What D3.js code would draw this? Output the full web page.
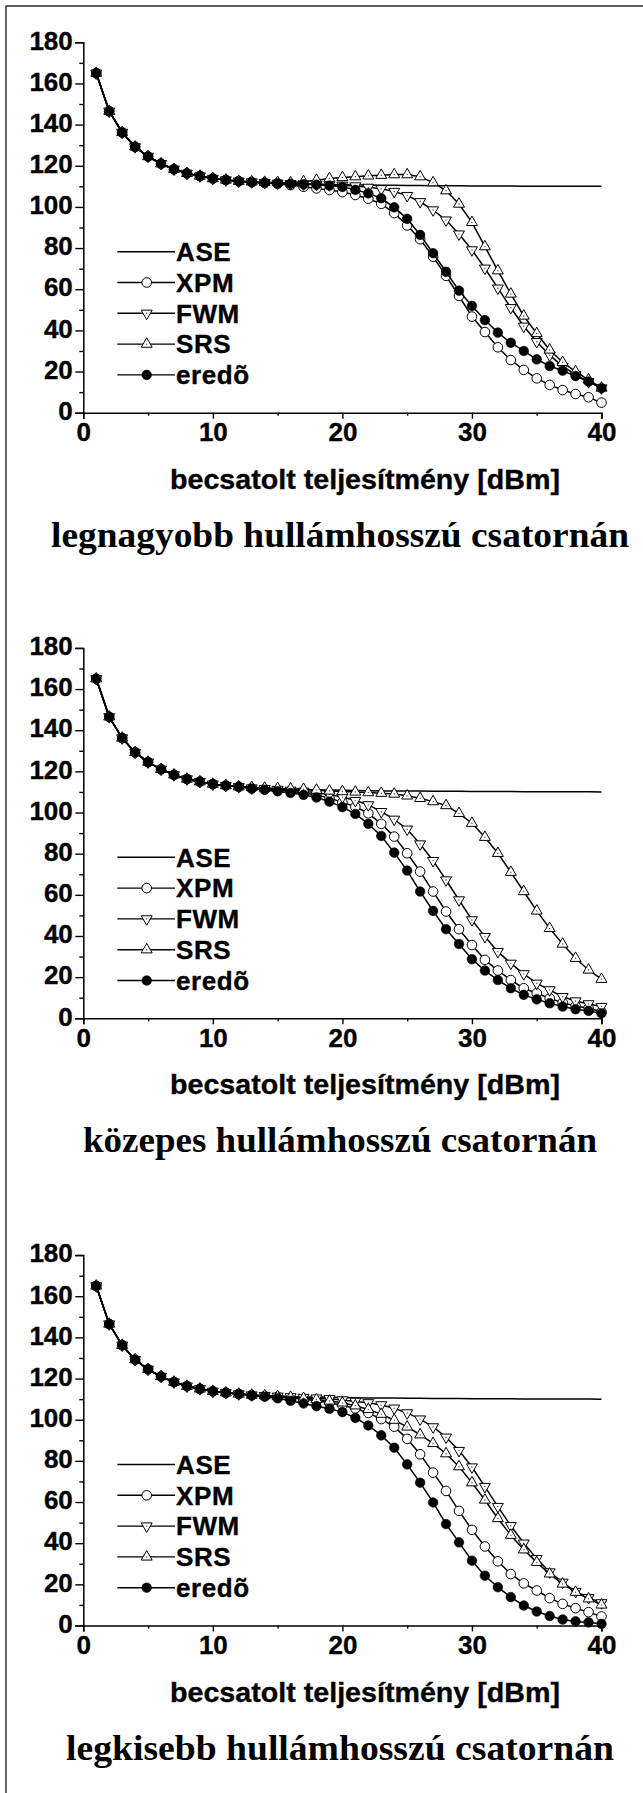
<!DOCTYPE html>
<html>
<head>
<meta charset="utf-8">
<script src="https://cdn.jsdelivr.net/npm/d3@7"></script>
<style>
  html, body { margin: 0; padding: 0; background: #fff; }
  svg { display: block; }
</style>
</head>
<body>
<script>
// launched power, dBm
const power = [1,2,3,4,5,6,7,8,9,10,11,12,13,14,15,16,17,18,19,20,
               21,22,23,24,25,26,27,28,29,30,31,32,33,34,35,36,37,38,39,40];

// values shared by every curve at low power (1..12 dBm)
const head = [165,146.5,136.2,129.2,124.5,121.0,118.3,116.3,115.0,113.8,113.1,112.5];

// 13..40 dBm
const aseTail = [112.0,111.7,111.5,111.3,111.1,111.0,110.9,110.8,110.7,110.6,110.5,110.5,110.4,110.4,
                 110.3,110.3,110.3,110.2,110.2,110.2,110.2,110.1,110.1,110.1,110.1,110.1,110.1,110.0];

// longest wavelength channel
const xpm1 = [112.0,111.6,111.2,110.6,109.8,109.0,108.2,107.2,105.8,104.0,101.5,97.0,91.0,84.3,
              75.8,66.5,56.7,46.7,39.2,31.8,25.6,20.8,16.7,13.5,11.0,9.1,7.5,4.9];
const fwm1 = [112.1,111.8,111.5,111.3,111.1,110.9,110.7,110.5,110.2,109.5,108.8,107.5,105.5,102.5,
              98.5,93.6,86.8,79.1,70.2,60.5,51.0,42.0,34.5,28.0,22.5,18.5,15.0,12.0];
const srs1 = [112.2,112.0,111.9,111.8,112.3,113.0,113.8,114.3,114.7,115.1,115.4,115.7,115.7,114.7,
              111.8,107.9,101.4,92.5,80.7,69.0,57.7,47.0,38.5,30.5,24.5,20.0,16.0,12.0];
const ered1 = [112.1,111.8,111.5,111.2,111.0,110.8,110.4,109.7,108.3,106.6,104.2,99.8,94.2,86.4,
               77.5,68.5,59.3,51.9,45.0,38.9,34.0,30.0,25.9,22.7,20.4,17.8,15.1,11.9];

// middle wavelength channel
const xpm2 = [111.8,111.4,110.9,110.3,109.5,108.5,107.0,105.0,102.8,99.6,94.5,88.3,80.2,71.3,
              61.6,51.9,43.3,35.6,28.4,23.2,18.6,14.6,12.2,9.7,7.6,6.0,4.9,3.2];
const fwm2 = [111.9,111.6,111.2,110.8,110.3,109.6,108.7,107.5,105.8,103.7,100.4,96.7,91.9,84.7,
              76.6,67.2,57.5,47.8,39.7,32.4,26.7,21.6,17.0,13.8,10.5,8.4,7.0,5.7];
const srs2 = [112.2,111.9,111.7,111.5,111.3,110.9,110.5,110.2,110.0,109.7,109.4,109.0,108.1,106.9,
              105.3,103.4,99.6,94.8,88.0,80.2,71.0,61.6,52.2,43.7,36.1,29.2,23.5,19.0];
const ered2 = [111.6,111.0,110.3,109.5,108.6,107.3,105.3,102.6,99.3,94.5,88.6,80.5,71.8,61.6,
               52.2,43.3,36.1,28.7,23.2,18.6,14.6,11.4,9.2,7.3,5.7,4.4,3.6,2.4];

// shortest wavelength channel
const xpm3 = [111.9,111.5,111.1,110.6,110.0,109.2,108.3,107.0,105.5,103.3,100.3,96.6,90.7,83.2,
              74.3,65.4,55.7,46.5,38.4,31.2,25.0,20.5,17.0,13.3,10.5,8.4,6.5,4.4];
const fwm3 = [112.0,111.7,111.4,111.1,110.8,110.5,110.2,109.6,108.9,108.2,107.2,105.6,103.3,100.3,
              96.5,91.5,85.0,77.0,67.5,57.8,48.5,40.0,32.5,26.0,21.0,16.5,13.5,11.0];
const srs3 = [112.0,111.7,111.3,110.9,110.4,109.8,109.1,108.2,106.8,105.0,102.7,99.8,96.5,92.7,
              88.5,83.5,77.2,69.4,61.0,52.0,43.9,36.8,30.7,25.1,20.2,16.2,13.0,10.0];
const ered3 = [111.8,111.2,110.4,109.2,107.9,106.6,105.3,103.7,100.9,97.2,92.4,86.4,78.3,69.4,
               59.8,49.3,40.4,31.5,24.2,18.6,13.8,9.7,6.8,4.6,2.9,2.0,1.5,0.8];

const yTicks = [0,20,40,60,80,100,120,140,160,180];
const yMinor = [10,30,50,70,90,110,130,150,170];
const xTicks = [0,10,20,30,40];
const xMinor = [5,15,25,35];

const seriesNames = ["ASE","XPM","FWM","SRS","eredõ"];
const xTitle = "becsatolt teljesítmény [dBm]";
const panelTitles = ["legnagyobb hullámhosszú csatornán",
                     "közepes hullámhosszú csatornán",
                     "legkisebb hullámhosszú csatornán"];
const titleWidths = [578, 514, 548];

const panelData = [
  [aseTail, xpm1, fwm1, srs1, ered1],
  [aseTail, xpm2, fwm2, srs2, ered2],
  [aseTail, xpm3, fwm3, srs3, ered3]
];

// ---- layout ----
const W = 643, H = 1793;
const axisBottoms = [412.7, 1018.3, 1625.5];
const plotH = 370.4;
const sans = "'Liberation Sans', Arial, sans-serif";
const serif = "'Liberation Serif', 'Times New Roman', serif";

const svg = d3.select("body").append("svg")
  .attr("width", W).attr("height", H)
  .attr("viewBox", `0 0 ${W} ${H}`);

svg.append("rect").attr("width", W).attr("height", H).attr("fill", "#fff");

// frame (left and top edges)
svg.append("path")
  .attr("d", `M6,${H} V6 H${W}`)
  .attr("fill", "none").attr("stroke", "#2a2a2a").attr("stroke-width", 1.4);

const x = d3.scaleLinear().domain([0, 40]).range([83.3, 601.5]);

const markerKinds = [null, "circle", "down", "up", "dot"];

function drawMarker(sel, kind, cx, cy) {
  if (kind === "circle") {
    sel.append("circle").attr("cx", cx).attr("cy", cy).attr("r", 4.8)
      .attr("fill", "#fff").attr("stroke", "#000").attr("stroke-width", 1);
  } else if (kind === "dot") {
    sel.append("circle").attr("cx", cx).attr("cy", cy).attr("r", 4.8)
      .attr("fill", "#000").attr("stroke", "#000").attr("stroke-width", 0.6);
  } else if (kind === "up" || kind === "down") {
    const rot = kind === "down" ? 180 : 0;
    sel.append("path")
      .attr("d", d3.symbol().type(d3.symbolTriangle).size(52)())
      .attr("transform", `translate(${cx},${cy}) rotate(${rot})`)
      .attr("fill", "#fff").attr("stroke", "#000").attr("stroke-width", 1);
    sel.append("circle").attr("cx", cx).attr("cy", cy).attr("r", 0.7).attr("fill", "#444");
  }
}

function boldSans(sel, size) {
  return sel.attr("font-family", sans).attr("font-weight", "bold").attr("font-size", size)
    .attr("fill", "#000").attr("stroke", "#000").attr("stroke-width", 0.35);
}

panelData.forEach((tails, p) => {
  const yb = axisBottoms[p];
  const y = d3.scaleLinear().domain([0, 180]).range([yb, yb - plotH]);
  const g = svg.append("g");

  // y axis
  const yAxis = g.append("g").attr("transform", `translate(${x(0)},0)`)
    .call(d3.axisLeft(y).tickValues(yTicks).tickSize(8).tickPadding(2.5).tickFormat(d3.format("d")));
  g.append("g").attr("transform", `translate(${x(0)},0)`)
    .call(d3.axisLeft(y).tickValues(yMinor).tickSize(4).tickFormat(""))
    .select(".domain").remove();

  // x axis
  g.append("g").attr("transform", `translate(0,${yb})`)
    .call(d3.axisBottom(x).tickValues(xTicks).tickSize(6).tickPadding(4).tickFormat(d3.format("d")));
  g.append("g").attr("transform", `translate(0,${yb})`)
    .call(d3.axisBottom(x).tickValues(xMinor).tickSize(3).tickFormat(""))
    .select(".domain").remove();

  g.selectAll(".domain").attr("stroke", "#000").attr("stroke-width", 1.5);
  g.selectAll(".tick line").attr("stroke", "#000").attr("stroke-width", 1.4);
  boldSans(g.selectAll(".tick text"), 26);
  yAxis.selectAll(".tick text").attr("dy", "0.26em");

  // curves
  const line = d3.line().x(d => x(d[0])).y(d => y(d[1]));
  tails.forEach((tail, s) => {
    const vals = head.concat(tail);
    const pts = power.map((pw, i) => [pw, vals[i]]);
    g.append("path").datum(pts).attr("d", line)
      .attr("fill", "none").attr("stroke", "#000").attr("stroke-width", 1.5);
    const kind = markerKinds[s];
    if (kind) {
      const mg = g.append("g");
      pts.forEach(d => drawMarker(mg, kind, x(d[0]), y(d[1])));
    }
  });

  // legend
  const lg = g.append("g");
  seriesNames.forEach((name, s) => {
    const ly = yb - 161 + s * 30.8;
    lg.append("line").attr("x1", 117.3).attr("x2", 175).attr("y1", ly).attr("y2", ly)
      .attr("stroke", "#000").attr("stroke-width", 1.4);
    if (markerKinds[s]) drawMarker(lg, markerKinds[s], 146.7, ly);
    boldSans(lg.append("text"), 26).attr("x", 176).attr("y", ly + 9.3)
      .attr("letter-spacing", 0.6)
      .text(name);
  });

  // axis title
  boldSans(g.append("text"), 28.5).attr("x", 365).attr("y", yb + 76)
    .attr("text-anchor", "middle")
    .attr("textLength", 390).attr("lengthAdjust", "spacingAndGlyphs")
    .text(xTitle);

  // caption under the panel
  g.append("text").attr("x", 340).attr("y", yb + 134)
    .attr("text-anchor", "middle")
    .attr("font-family", serif).attr("font-weight", "bold").attr("font-size", 36)
    .attr("fill", "#000")
    .attr("textLength", titleWidths[p]).attr("lengthAdjust", "spacingAndGlyphs")
    .text(panelTitles[p]);
});
</script>
</body>
</html>
